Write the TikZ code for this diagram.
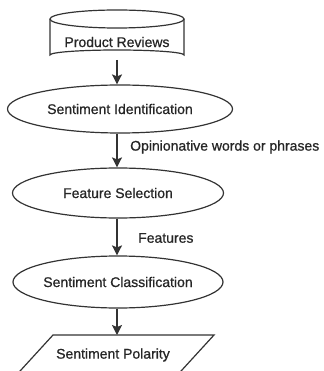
\documentclass[tikz,border=0pt]{standalone}
\usepackage{fontspec}
\setmainfont{Liberation Sans}
\newfontfamily\diagfont{Liberation Sans}[FakeBold=0.8]
\usetikzlibrary{shapes.geometric,arrows.meta}
\begin{document}
\begin{tikzpicture}[x=1pt,y=-1pt,
  line/.style={draw=black!80,line width=1.2pt},
  flow/.style={line,line width=1.4pt,-{Stealth[length=10pt,width=10pt,inset=2pt]}},
  proc/.style={ellipse,line,inner sep=0pt},
  txt/.style={text=black!85,font=\diagfont\fontsize{14}{16}\selectfont,inner sep=0pt}]
\useasboundingbox (0,0) rectangle (323,371);
\clip (0,0) rectangle (323,371);
% cylinder
\draw[line] (117,19) ellipse [x radius=67, y radius=9];
\draw[line] (50,19) -- (50,55) arc[start angle=180,end angle=360,x radius=67,y radius=5] -- (184,19);
\node[txt] (pr) at (117,42) {Product Reviews};
\coordinate (prb) at (117,60);
% ellipses
\node[proc,minimum width=225pt,minimum height=48pt] (si) at (120,109) {};
\node[txt] at (si.center) {Sentiment Identification};
\node[proc,minimum width=211pt,minimum height=50pt] (fs) at (118,193) {};
\node[txt] at (fs.center) {Feature Selection};
\node[proc,minimum width=210pt,minimum height=52pt] (sc) at (118,282) {};
\node[txt] at (sc.center) {Sentiment Classification};
% parallelogram
\coordinate (ptop) at (117,335);
\draw[line] (53,335) -- (214,335) -- (171,382) -- (10,382) -- cycle;
\node[txt] (sp) at (113,355) {Sentiment Polarity};
% arrows
\draw[flow] (prb) -- (si.north -| prb);
\draw[flow] (si.south -| prb) -- (fs.north -| prb);
\draw[flow] (fs.south -| prb) -- (sc.north -| prb);
\draw[flow] (sc.south -| prb) -- (ptop);
% labels
\node[txt,anchor=west] (l1) at (130,147) {Opinionative words or phrases};
\node[txt,anchor=west] (l2) at (138,238) {Features};
\end{tikzpicture}
\end{document}
